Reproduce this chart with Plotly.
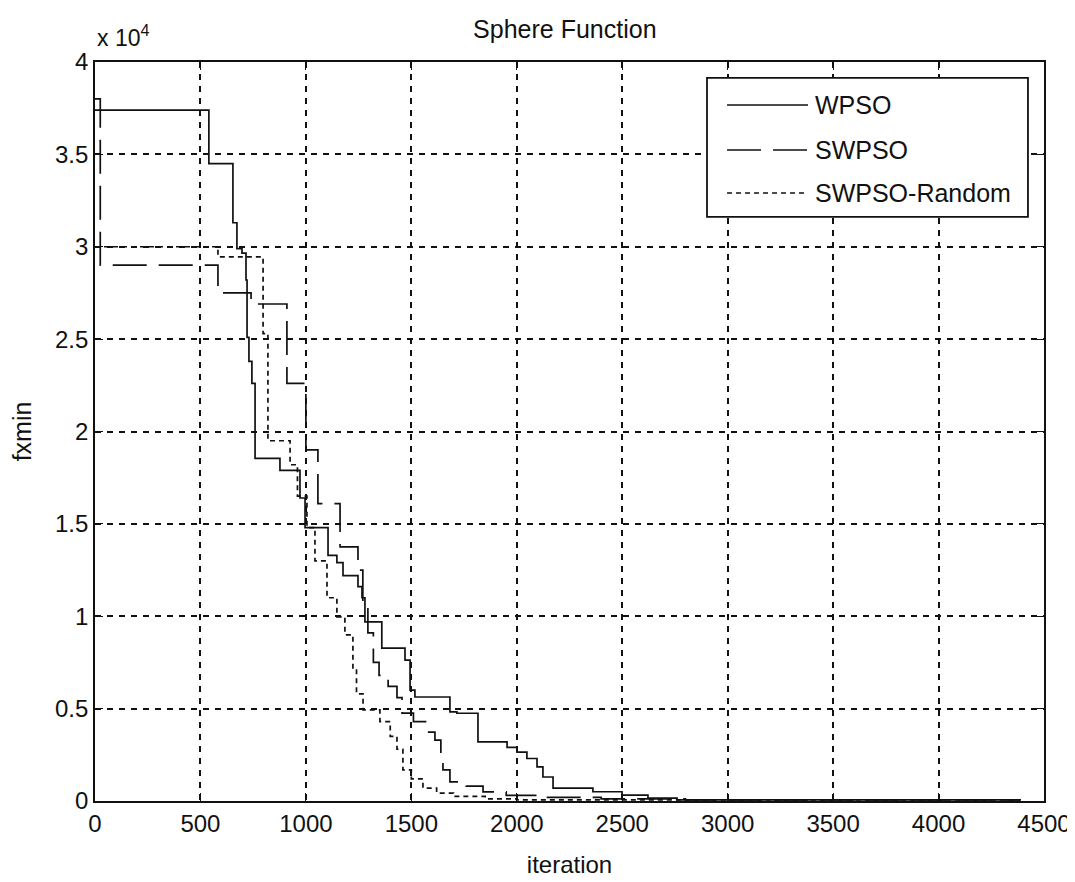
import plotly.graph_objects as go

# ---- data ----
wpso_x = [0, 540, 654, 673, 697, 716, 721, 730, 744, 759, 877, 972, 996, 1105, 1147, 1176,
          1247, 1266, 1280, 1360, 1470, 1494, 1517, 1683, 1716, 1816, 1954, 2001, 2048, 2096,
          2124, 2172, 2361, 2499, 2622, 2760, 4386]
wpso_y = [37400, 34500, 31300, 29900, 29650, 28200, 25100, 23800, 22600, 18550, 17900, 16400,
          14800, 13300, 12900, 12200, 11600, 11000, 9700, 8280, 7630, 6000, 5630, 4820, 4750,
          3200, 2900, 2650, 2300, 1850, 1300, 700, 500, 320, 160, 60, 60]

swpso_x = [0, 25, 583, 740, 910, 1000, 1057, 1162, 1247, 1270, 1294, 1320, 1347, 1390, 1432,
           1456, 1510, 1574, 1612, 1640, 1650, 1683, 1760, 1840, 1950, 2100, 2400, 2800, 4386]
swpso_y = [38000, 29000, 27500, 26900, 22600, 19000, 16100, 13750, 12500, 10500, 9100, 7500,
           6800, 6200, 5600, 4760, 4300, 3730, 3300, 2200, 1680, 1030, 800, 490, 300, 200, 120,
           60, 30]

rnd_x = [0, 583, 797, 820, 925, 960, 1005, 1043, 1100, 1147, 1185, 1223, 1240, 1271, 1351,
         1400, 1432, 1460, 1500, 1555, 1620, 1700, 1850, 2000, 4386]
rnd_y = [30000, 29450, 25300, 19500, 18200, 16500, 14800, 13000, 11000, 9960, 8990, 7090,
         5800, 4930, 4300, 3500, 2800, 1680, 1200, 700, 430, 250, 120, 60, 20]

series_names = ["WPSO", "SWPSO", "SWPSO-Random"]
series_dash = ["solid", "34px,12px", "5px,4px"]

y_tickvals = [0, 5000, 10000, 15000, 20000, 25000, 30000, 35000, 40000]
y_ticktext = ["0", "0.5", "1", "1.5", "2", "2.5", "3", "3.5", "4"]
x_tickvals = [0, 500, 1000, 1500, 2000, 2500, 3000, 3500, 4000, 4500]

FONT = "Liberation Sans, Arial, sans-serif"
INK = "#111111"

fig = go.Figure()
for xs, ys, name, dash in zip([wpso_x, swpso_x, rnd_x], [wpso_y, swpso_y, rnd_y],
                              series_names, series_dash):
    fig.add_trace(go.Scatter(x=xs, y=ys, mode="lines", name=name, line_shape="hv",
                             showlegend=False, line=dict(color=INK, width=1.7, dash=dash)))

axis_common = dict(showline=True, linecolor=INK, linewidth=1.8, mirror="ticks",
                   ticks="inside", ticklen=8, tickcolor=INK, tickwidth=1.3,
                   showgrid=True, gridcolor=INK, gridwidth=1.6, griddash="6px,6px",
                   zeroline=False, automargin=False,
                   tickfont=dict(family=FONT, size=24, color=INK))

fig.update_xaxes(range=[0, 4500], tickvals=x_tickvals, **axis_common,
                 title=dict(text="iteration", font=dict(family=FONT, size=24, color=INK),
                            standoff=20))
fig.update_yaxes(range=[0, 40000], tickvals=y_tickvals, ticktext=y_ticktext, **axis_common,
                 title=dict(text="fxmin", font=dict(family=FONT, size=25, color=INK),
                            standoff=20))

# legend box drawn in the upper-right corner, like the MATLAB legend
shapes = [dict(type="rect", xref="paper", yref="paper", x0=0.6449, x1=0.9831,
               y0=0.7903, y1=0.9784, line=dict(color=INK, width=1.8), fillcolor="white",
               layer="above")]
annotations = []
row_y = [0.9418, 0.8809, 0.8227]
for name, dash, ry in zip(series_names, series_dash, row_y):
    shapes.append(dict(type="line", xref="paper", yref="paper", x0=0.666, x1=0.7513,
                       y0=ry, y1=ry, line=dict(color=INK, width=1.7, dash=dash),
                       layer="above"))
    annotations.append(dict(text=name, xref="paper", yref="paper", x=0.7566, y=ry,
                            xanchor="left", yanchor="middle", showarrow=False,
                            font=dict(family=FONT, size=25, color=INK)))

annotations.append(dict(text="x 10<sup>4</sup>", xref="paper", yref="paper", x=0, y=1.012,
                        xanchor="left", yanchor="bottom", showarrow=False,
                        font=dict(family=FONT, size=23, color=INK)))

fig.update_layout(
    width=1075, height=882,
    margin=dict(l=87, r=39, t=54, b=89),
    paper_bgcolor="white", plot_bgcolor="white",
    title=dict(text="Sphere Function", x=0.518, xanchor="center", y=0.986, yanchor="top",
               font=dict(family=FONT, size=25, color=INK)),
    shapes=shapes,
    annotations=annotations,
    showlegend=False,
)

fig.write_html("out.html")
